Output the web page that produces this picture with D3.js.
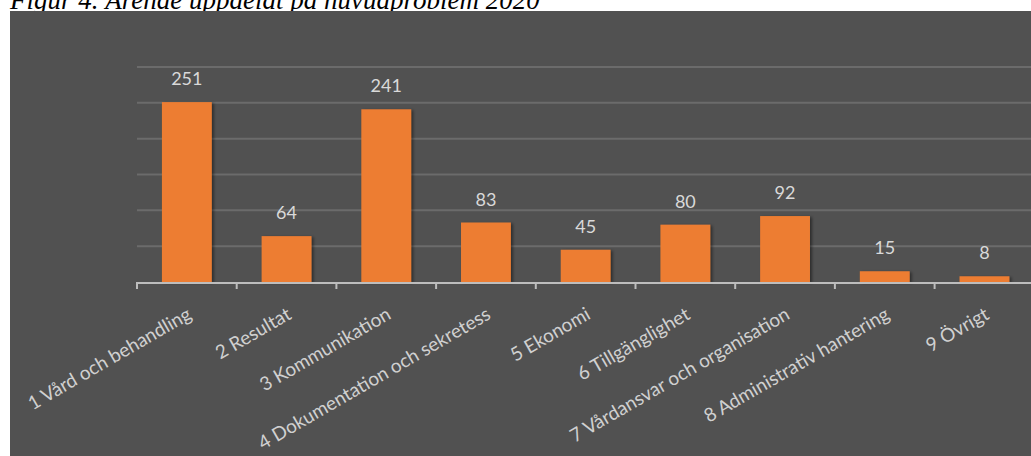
<!DOCTYPE html>
<html>
<head>
<meta charset="utf-8">
<script src="https://cdn.jsdelivr.net/npm/d3@7"></script>
<style>
  html, body { margin: 0; padding: 0; background: #fff; overflow: hidden; }
  svg { display: block; }
</style>
</head>
<body>
<svg></svg>
<script>
// data
var categories = ["1 Vård och behandling", "2 Resultat", "3 Kommunikation",
  "4 Dokumentation och sekretess", "5 Ekonomi", "6 Tillgänglighet",
  "7 Vårdansvar och organisation", "8 Administrativ hantering", "9 Övrigt"];
var values = [251, 64, 241, 83, 45, 80, 92, 15, 8];
var yTicks = [50, 100, 150, 200, 250, 300];
var title = "Figur 4.  Ärende uppdelat på huvudproblem 2020";

var W = 1031, H = 456;
var svg = d3.select("svg").attr("width", W).attr("height", H);

// shadow for the bars
var defs = svg.append("defs");
var f = defs.append("filter").attr("id", "sh").attr("x", "-20%").attr("y", "-20%")
  .attr("width", "150%").attr("height", "150%");
f.append("feDropShadow").attr("dx", 2).attr("dy", 1).attr("stdDeviation", 1.5)
  .attr("flood-color", "#000").attr("flood-opacity", 0.45);

// title, cut off at the top
svg.append("text")
  .attr("x", 10).attr("y", 9)
  .attr("font-family", "Liberation Serif, serif")
  .attr("font-style", "italic")
  .attr("font-size", 27)
  .attr("fill", "#000")
  .text(title);

// dark chart area
svg.append("rect").attr("x", 10).attr("y", 11)
  .attr("width", W - 10).attr("height", H - 11).attr("fill", "#515151");

var x = d3.scaleBand().domain(categories)
  .range([137, 137 + 9 * 99.7])
  .paddingInner(0.5).paddingOuter(0.25);
var y = d3.scaleLinear().domain([0, 300]).range([282, 67]);

// gridlines
svg.append("g").selectAll("line")
  .data(yTicks).enter().append("line")
  .attr("x1", 137).attr("x2", W)
  .attr("y1", function(d) { return y(d); })
  .attr("y2", function(d) { return y(d); })
  .attr("stroke", "#6b6b6b").attr("stroke-width", 2);

// bars
svg.append("g").selectAll("rect")
  .data(values).enter().append("rect")
  .attr("x", function(d, i) { return x(categories[i]); })
  .attr("y", function(d) { return y(d); })
  .attr("width", x.bandwidth())
  .attr("height", function(d) { return y(0) - y(d); })
  .attr("fill", "#ED7D31")
  .attr("filter", "url(#sh)");

// axis line + ticks at category boundaries
var ax = svg.append("g");
ax.append("line").attr("x1", 136).attr("x2", W)
  .attr("y1", y(0) + 1).attr("y2", y(0) + 1)
  .attr("stroke", "#bdbdbd").attr("stroke-width", 2);
ax.selectAll(".tk")
  .data(d3.range(categories.length + 1)).enter().append("line")
  .attr("class", "tk")
  .attr("x1", function(i) { return 137 + i * x.step(); })
  .attr("x2", function(i) { return 137 + i * x.step(); })
  .attr("y1", y(0) + 1).attr("y2", y(0) + 7)
  .attr("stroke", "#bdbdbd").attr("stroke-width", 2);

// value labels
svg.append("g").selectAll("text")
  .data(values).enter().append("text")
  .attr("x", function(d, i) { return x(categories[i]) + x.bandwidth() / 2; })
  .attr("y", function(d) { return y(d) - 17; })
  .attr("text-anchor", "middle")
  .attr("font-family", "Lato, sans-serif")
  .attr("font-size", 18)
  .attr("fill", "#d9d9d9")
  .text(function(d) { return d; });

// category labels, rotated
svg.append("g").selectAll("text")
  .data(categories).enter().append("text")
  .attr("transform", function(d) {
    return "translate(" + (x(d) + x.bandwidth() / 2 + 6) + "," + 318 + ") rotate(-30)";
  })
  .attr("text-anchor", "end")
  .attr("font-family", "Lato, sans-serif")
  .attr("font-size", 19)
  .attr("fill", "#d0d0d0")
  .text(function(d) { return d; });
</script>
</body>
</html>
